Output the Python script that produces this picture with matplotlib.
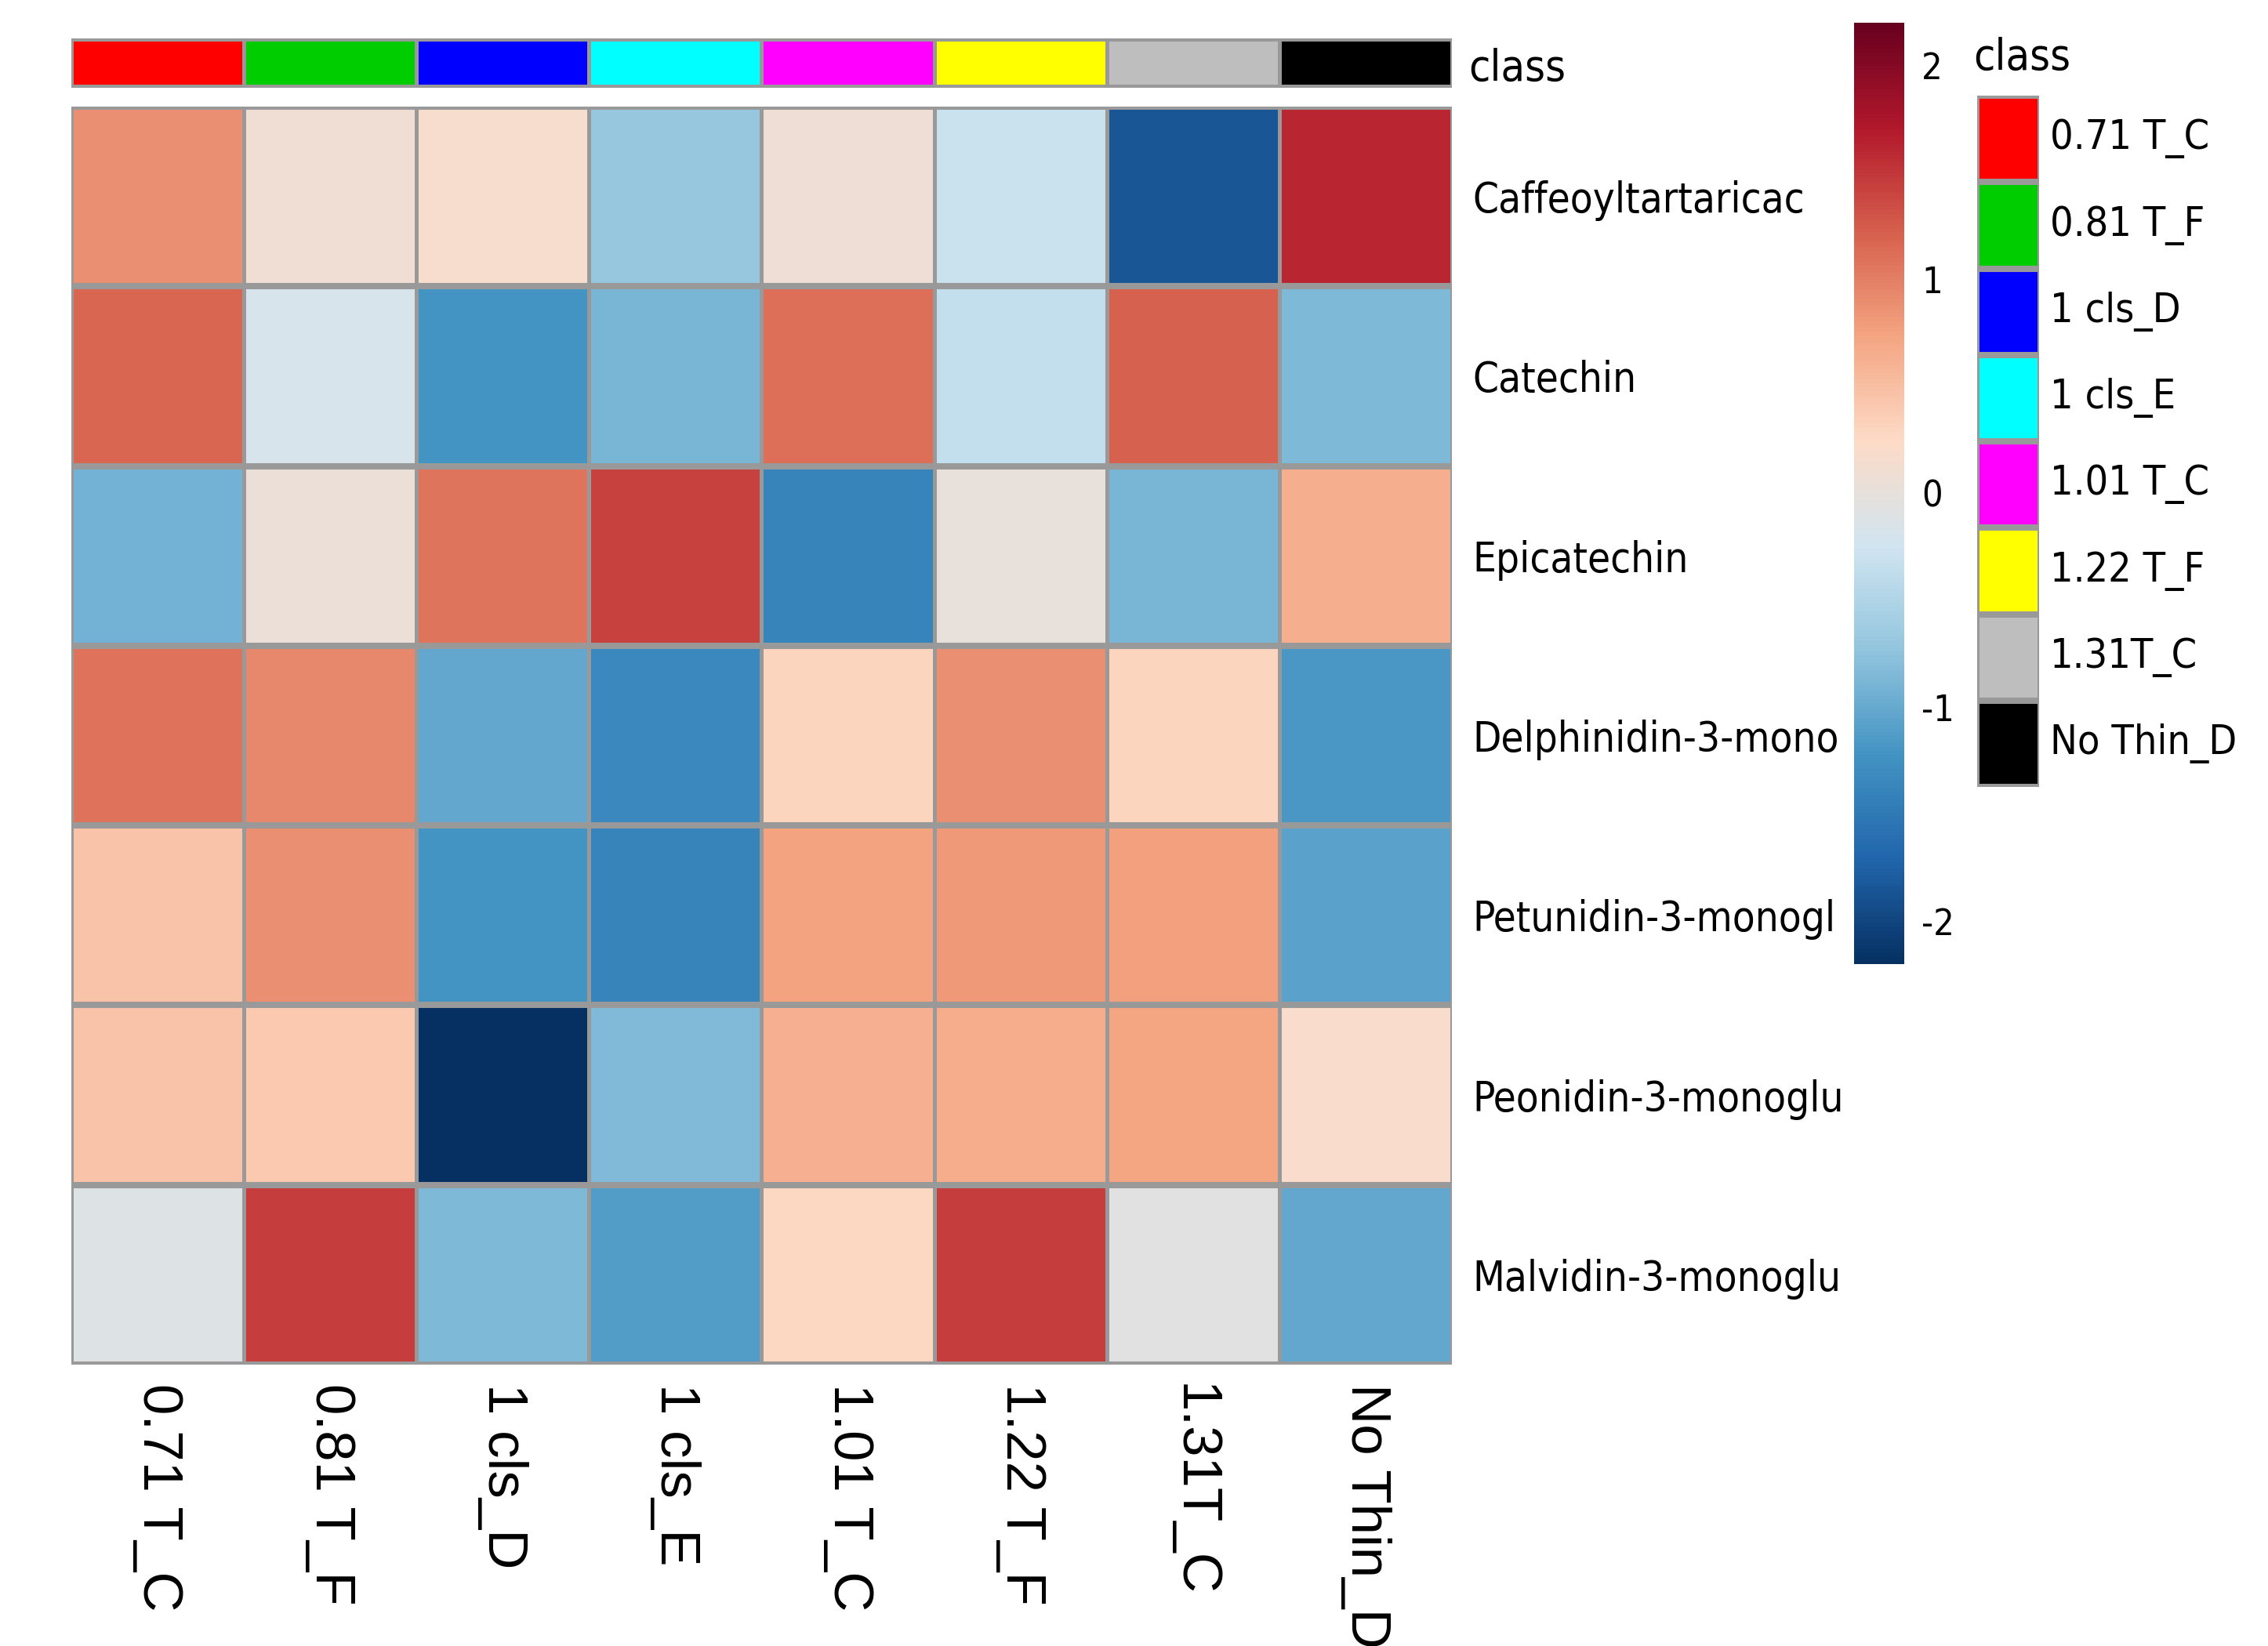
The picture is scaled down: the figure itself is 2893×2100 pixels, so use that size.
import numpy as np
import matplotlib
matplotlib.use("Agg")
import matplotlib.pyplot as plt
from matplotlib.colors import LinearSegmentedColormap, ListedColormap
from matplotlib import font_manager
from matplotlib.font_manager import FontProperties

# data
compounds = ["Caffeoyltartaricac", "Catechin", "Epicatechin", "Delphinidin-3-mono",
             "Petunidin-3-monogl", "Peonidin-3-monoglu", "Malvidin-3-monoglu"]
groups = ["0.71 T_C", "0.81 T_F", "1 cls_D", "1 cls_E", "1.01 T_C", "1.22 T_F", "1.31T_C", "No Thin_D"]
group_colors = ["#FF0000", "#00CD00", "#0000FF", "#00FFFF", "#FF00FF", "#FFFF00", "#BEBEBE", "#000000"]

caffeoyl = [0.89, 0.10, 0.17, -0.70, 0.08, -0.30, -1.84, 1.60]
catechin = [1.18, -0.18, -1.22, -0.89, 1.11, -0.36, 1.22, -0.85]
epicatechin = [-0.92, 0.04, 1.07, 1.42, -1.39, 0.00, -0.89, 0.65]
delphinidin = [1.09, 0.93, -1.03, -1.34, 0.30, 0.88, 0.30, -1.18]
petunidin = [0.45, 0.88, -1.22, -1.39, 0.74, 0.81, 0.77, -1.07]
peonidin = [0.45, 0.40, -2.20, -0.84, 0.63, 0.66, 0.73, 0.20]
malvidin = [-0.12, 1.45, -0.85, -1.13, 0.28, 1.45, -0.06, -1.03]

values = np.array([caffeoyl, catechin, epicatechin, delphinidin, petunidin, peonidin, malvidin])
cbar_ticks = [-2, -1, 0, 1, 2]

rdbu10 = ["#67001F", "#B2182B", "#D6604D", "#F4A582", "#FDDBC7",
          "#D1E5F0", "#92C5DE", "#4393C3", "#2166AC", "#053061"]
cmap = LinearSegmentedColormap.from_list("rdbu10", rdbu10[::-1], N=256)


def pick_narrow():
    # a condensed sans face if one is installed, else Liberation Sans
    sans = ("Liberation Sans Narrow", "Roboto Condensed", "Open Sans Condensed",
            "DejaVu Sans Condensed", "Noto Sans", "Roboto", "Open Sans", "DejaVu Sans")
    for f in font_manager.fontManager.ttflist:
        if f.name not in sans or f.style != "normal":
            continue
        if f.weight not in (400, "normal", "regular", "book"):
            continue
        if "Narrow" in f.name or "Condensed" in f.name or "condensed" in str(f.stretch):
            return FontProperties(fname=f.fname)
    return FontProperties(family=["Liberation Sans", "DejaVu Sans"])


fp_narrow = pick_narrow()
fp_reg = FontProperties(family=["Liberation Sans", "DejaVu Sans"])

grid = "#999999"

fig = plt.figure(figsize=(28.93, 21), dpi=100)
renderer = fig.canvas.get_renderer()


def fit_size(s, target_px, fp):
    t = fig.text(0, 0, s, fontproperties=fp, fontsize=100)
    w = t.get_window_extent(renderer).width
    t.remove()
    return 100 * target_px / w


fs_row = fit_size("Caffeoyltartaricac", 424, fp_narrow)
fs_col = fit_size("0.71 T_C", 290, fp_reg)
fs_leg = fit_size("No Thin_D", 238, fp_narrow)
fs_cls = fit_size("class", 124, fp_narrow)
fs_cb = fit_size("-1", 42, fp_narrow)

# main heatmap
ax = fig.add_axes([0.03146, 0.17095, 0.6087, 0.7643])
mesh = ax.pcolormesh(values, cmap=cmap, vmin=-2.2, vmax=2.2)
nr, nc = values.shape
ax.hlines(np.arange(nr + 1), 0, nc, color=grid, lw=5.8)
ax.vlines(np.arange(nc + 1), 0, nr, color=grid, lw=3.6)
ax.set_xlim(0, nc)
ax.set_ylim(nr, 0)
for s in ax.spines.values():
    s.set_visible(False)
ax.yaxis.tick_right()
ax.set_yticks(np.arange(nr) + 0.5)
ax.set_yticklabels(compounds, fontproperties=fp_narrow, fontsize=fs_row)
ax.set_xticks(np.arange(nc) + 0.5)
ax.set_xticklabels(groups, fontproperties=fp_reg, fontsize=fs_col, rotation=270, va="top", ha="center")
ax.tick_params(axis="y", length=0, pad=19)
ax.tick_params(axis="x", length=0, pad=17)

# class annotation bar
ax_ann = fig.add_axes([0.03146, 0.94667, 0.6087, 0.03])
ax_ann.pcolormesh(np.arange(nc).reshape(1, -1), cmap=ListedColormap(group_colors), vmin=-0.5, vmax=nc - 0.5)
ax_ann.hlines([0, 1], 0, nc, color=grid, lw=5.8)
ax_ann.vlines(np.arange(nc + 1), 0, 1, color=grid, lw=3.6)
ax_ann.set_xlim(0, nc)
ax_ann.set_ylim(1, 0)
ax_ann.axis("off")
fig.text(1873 / 2893, 1 - 88 / 2100, "class", fontproperties=fp_narrow, fontsize=fs_cls, ha="left", va="center")

# colour scale
cax = fig.add_axes([0.8175, 0.4143, 0.0221, 0.5719])
cb = fig.colorbar(mesh, cax=cax, ticks=cbar_ticks)
cb.outline.set_visible(False)
cax.tick_params(length=0, pad=16)
cax.set_yticklabels([str(t) for t in cbar_ticks], fontproperties=fp_narrow, fontsize=fs_cb)

# class legend
ax_leg = fig.add_axes([0.8718, 0.5219, 0.0273, 0.42])
ax_leg.pcolormesh(np.arange(nc).reshape(-1, 1), cmap=ListedColormap(group_colors), vmin=-0.5, vmax=nc - 0.5)
ax_leg.hlines(np.arange(nc + 1), 0, 1, color=grid, lw=5.8)
ax_leg.vlines([0, 1], 0, nc, color=grid, lw=3.6)
ax_leg.set_xlim(0, 1)
ax_leg.set_ylim(nc, 0)
ax_leg.axis("off")
for i, g in enumerate(groups):
    ax_leg.text(1.17, i + 0.5, g, fontproperties=fp_narrow, fontsize=fs_leg, ha="left", va="center")
fig.text(2517 / 2893, 1 - 74 / 2100, "class", fontproperties=fp_narrow, fontsize=fs_cls, ha="left", va="center")

fig.savefig("out.png", dpi=100)
